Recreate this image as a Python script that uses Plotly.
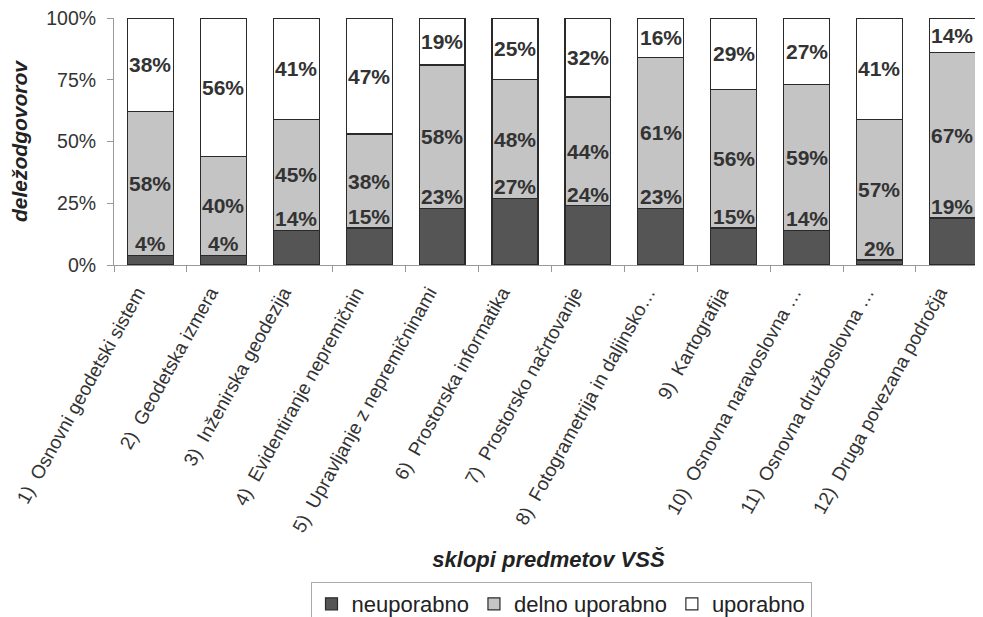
import plotly.graph_objects as go

categories = [
    "1)  Osnovni geodetski sistem",
    "2)  Geodetska izmera",
    "3)  Inženirska geodezija",
    "4)  Evidentiranje nepremičnin",
    "5)  Upravljanje z nepremičninami",
    "6)  Prostorska informatika",
    "7)  Prostorsko načrtovanje",
    "8)  Fotogrametrija in daljinsko…",
    "9)  Kartografija",
    "10)  Osnovna naravoslovna …",
    "11)  Osnovna družboslovna …",
    "12)  Druga povezana področja",
]
neuporabno = [4, 4, 14, 15, 23, 27, 24, 23, 15, 14, 2, 19]
delno = [58, 40, 45, 38, 58, 48, 44, 61, 56, 59, 57, 67]
uporabno = [38, 56, 41, 47, 19, 25, 32, 16, 29, 27, 41, 14]
series_names = ["neuporabno", "delno uporabno", "uporabno"]
colors = ["#555555", "#c4c4c4", "#ffffff"]
yticks = [0, 25, 50, 75, 100]

FONT = "Liberation Sans, Arial, sans-serif"
TXT = "#333333"

# the page body adds an 8px margin, so the figure is sized to fit inside
W, H = 975, 609

fig = go.Figure()
for name, vals, col in zip(series_names, [neuporabno, delno, uporabno], colors):
    fig.add_trace(go.Bar(
        x=categories, y=vals, name=name,
        marker=dict(color=col, line=dict(color="#2a2a2a", width=1.2)),
    ))

annotations = []
for i, c in enumerate(categories):
    n, d, u = neuporabno[i], delno[i], uporabno[i]
    lab = dict(x=c, xref="x", yref="y", showarrow=False,
               font=dict(family=FONT, size=21, color=TXT))
    annotations.append(dict(lab, y=n, text=f"<b>{n}%</b>", yanchor="bottom", yshift=-2))
    annotations.append(dict(lab, y=n + d / 2, text=f"<b>{d}%</b>", yanchor="middle"))
    annotations.append(dict(lab, y=n + d + u / 2, text=f"<b>{u}%</b>", yanchor="middle"))

fig.update_layout(
    width=W, height=H,
    barmode="stack", bargap=0.37,
    paper_bgcolor="white", plot_bgcolor="white",
    margin=dict(l=106, r=0, t=10, b=352, autoexpand=False),
    font=dict(family=FONT, color=TXT),
    annotations=annotations,
    showlegend=True,
    legend=dict(
        orientation="h", x=553 / W, xanchor="center", xref="container",
        y=1 - 574 / H, yref="container", yanchor="top",
        bordercolor="#aaaaaa", borderwidth=1,
        font=dict(family=FONT, size=22, color="#222222"),
        traceorder="normal",
    ),
    xaxis=dict(
        range=[-0.5, 11.42], tickangle=-61, tickson="boundaries",
        ticks="outside", ticklen=6, tickcolor="#999999",
        showline=True, linecolor="#999999", linewidth=1,
        automargin=False, ticklabelstandoff=8, ticklabelshift=-13,
        tickfont=dict(family=FONT, size=19, color="#333333"),
        title=dict(text="<b><i>sklopi predmetov VSŠ</i></b>", standoff=16,
                   font=dict(family=FONT, size=22, color="#222222")),
    ),
    yaxis=dict(
        range=[0, 100], tickvals=yticks, ticktext=[f"{v}%" for v in yticks],
        ticks="outside", ticklen=6, tickcolor="#999999",
        showline=True, linecolor="#999999", linewidth=1, showgrid=False,
        automargin=False, ticklabelstandoff=7, ticklabeloverflow="allow",
        tickfont=dict(family=FONT, size=19.5, color="#333333"),
        title=dict(text="<b><i>deležodgovorov</i></b>", standoff=30,
                   font=dict(family=FONT, size=21, color="#222222")),
    ),
)

fig.write_html("out.html")
